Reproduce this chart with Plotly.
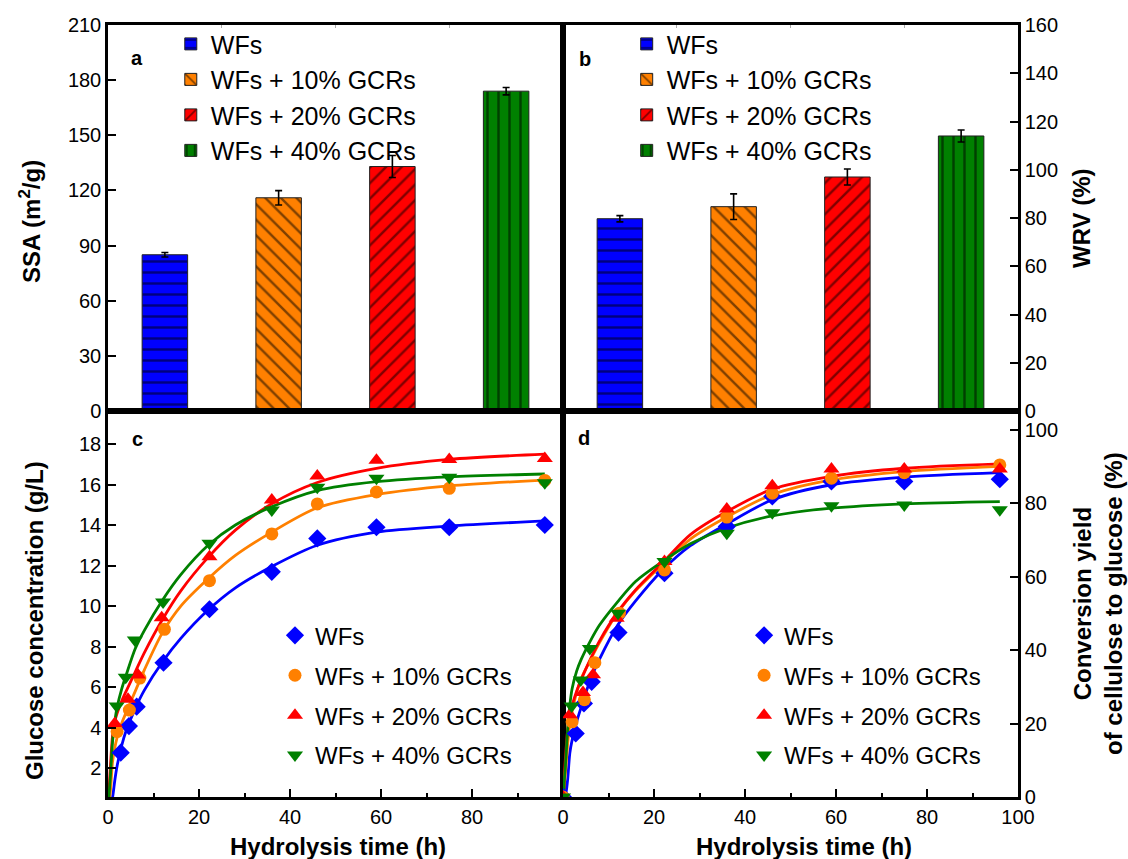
import plotly.graph_objects as go

FONT = "Arial, Liberation Sans, sans-serif"

# ---------------- data ----------------
groups = ["WFs", "WFs + 10% GCRs", "WFs + 20% GCRs", "WFs + 40% GCRs"]

ssa = [85, 116, 133, 174]          # m2/g
ssa_err = [1.2, 3.9, 6, 2]
wrv = [79.7, 84.7, 97, 114]         # %
wrv_err = [1.3, 5.3, 3.3, 2.5]

# hydrolysis sampling times (h), per series
t_wf = [0, 2.8, 4.6, 6.3, 12.2, 22.3, 36, 46, 59, 75, 96]
t_10 = [0, 2.0, 4.7, 7.0, 12.4, 22.3, 36, 46, 59, 75, 96]
t_20 = [0, 1.5, 4.4, 6.6, 11.8, 22.3, 36, 46, 59, 75, 96]
t_40 = [0, 1.9, 3.9, 5.9, 12.1, 22.3, 36, 46, 59, 75, 96]

# glucose concentration (g/L)
glc_wf = [0, 2.76, 4.07, 5.03, 7.2, 9.84, 11.69, 13.34, 13.89, 13.89, 14.0]
glc_10 = [0, 3.8, 4.86, 6.44, 8.85, 11.25, 13.56, 15.04, 15.63, 15.81, 16.2]
glc_20 = [0, 4.2, 5.4, 6.6, 9.42, 12.43, 15.23, 16.42, 17.2, 17.24, 17.29]
glc_40 = [0, 5.06, 6.48, 8.32, 10.2, 13.1, 14.74, 15.86, 16.31, 16.36, 16.09]

# conversion yield of cellulose to glucose (%)
cy_wf = [0, 17.3, 25.5, 31.4, 44.8, 61.0, 73.7, 81.9, 86.0, 86.0, 86.6]
cy_10 = [0, 20.5, 26.5, 36.6, 50.1, 61.9, 76.3, 82.8, 86.9, 88.4, 90.5]
cy_20 = [0, 22.4, 28.5, 33.3, 48.7, 64.2, 78.5, 84.8, 89.4, 89.4, 89.4]
cy_40 = [0, 24.8, 31.9, 40.5, 50.1, 64.2, 71.9, 77.5, 79.4, 79.6, 78.3]

# fitted curves
fit_t = [0, 0.5, 1, 1.5, 2, 3, 4, 6, 8, 12, 16, 22, 28, 36, 46, 59, 75, 96]
fit_glc_wf = [0, 0.1, 0.55, 1.4, 2.1, 3.1, 3.85, 4.95, 5.85, 7.25, 8.4, 9.8, 10.9, 11.95, 13.0, 13.65, 13.95, 14.2]
fit_glc_10 = [0, 0.8, 2.3, 3.0, 3.5, 4.2, 4.75, 5.8, 6.85, 8.7, 10.0, 11.35, 12.5, 13.65, 14.85, 15.5, 15.93, 16.22]
fit_glc_20 = [0, 2.0, 3.6, 4.3, 4.7, 5.3, 5.8, 6.75, 7.7, 9.35, 10.75, 12.4, 13.75, 15.05, 16.1, 16.8, 17.24, 17.5]
fit_glc_40 = [0, 1.5, 3.3, 4.3, 5.0, 5.9, 6.6, 7.9, 8.8, 10.3, 11.55, 13.0, 14.0, 14.9, 15.7, 16.14, 16.38, 16.52]

fit_cy_wf = [0, 0.5, 4.5, 12.0, 15.5, 20.5, 24.5, 31.9, 37.5, 46.8, 53.5, 62.0, 68.5, 74.4, 81.0, 85.1, 87.2, 88.4]
fit_cy_10 = [0, 6.0, 14.0, 20.0, 23.3, 28.5, 32.3, 37.3, 42.0, 50.2, 56.3, 63.5, 70.3, 76.3, 82.4, 86.4, 88.7, 90.1]
fit_cy_20 = [0, 10.0, 18.0, 22.8, 25.0, 28.8, 32.0, 37.5, 42.5, 50.4, 56.5, 64.0, 71.5, 77.8, 83.9, 87.4, 89.6, 90.8]
fit_cy_40 = [0, 8.0, 18.0, 25.0, 29.5, 34.3, 37.5, 42.5, 46.8, 53.2, 58.8, 64.3, 69.0, 73.3, 76.6, 78.7, 79.9, 80.5]

time_ticks = [0, 20, 40, 60, 80]
time_ticks_d = [0, 20, 40, 60, 80, 100]

# ---------------- styles ----------------
colors = ["#0000FF", "#FF8000", "#FF0000", "#008000"]
patterns = ["-", "\\", "/", "|"]
symbols = ["diamond", "circle", "triangle-up", "triangle-down"]
msizes = [14, 13, 14, 14]

fig = go.Figure()

# bars a and b
for panel, vals, errs, xa, ya, lg in [("a", ssa, ssa_err, "x", "y", "legend"),
                                      ("b", wrv, wrv_err, "x2", "y2", "legend2")]:
    for i, g in enumerate(groups):
        fig.add_trace(go.Bar(
            x=[g], y=[vals[i]], name=g, xaxis=xa, yaxis=ya, legend=lg,
            legendgroup=panel + str(i), width=0.4,
            marker=dict(color=colors[i], line=dict(color="#202020", width=1),
                        pattern=dict(shape=patterns[i], fgcolor="black", size=11,
                                     solidity=0.22, fillmode="overlay")),
            error_y=dict(type="data", array=[errs[i]], color="black", thickness=1.6, width=3.5),
        ))

# scatter c and d
tsets = [t_wf, t_10, t_20, t_40]
for panel, ys, fits, xa, ya, lg in [
    ("c", [glc_wf, glc_10, glc_20, glc_40], [fit_glc_wf, fit_glc_10, fit_glc_20, fit_glc_40], "x3", "y3", "legend3"),
    ("d", [cy_wf, cy_10, cy_20, cy_40], [fit_cy_wf, fit_cy_10, fit_cy_20, fit_cy_40], "x4", "y4", "legend4"),
]:
    for i, g in enumerate(groups):
        fig.add_trace(go.Scatter(
            x=fit_t, y=fits[i], mode="lines", xaxis=xa, yaxis=ya, showlegend=False,
            line=dict(color=colors[i], width=2.8, shape="spline", smoothing=0.8),
            hoverinfo="skip",
        ))
    for i, g in enumerate(groups):
        fig.add_trace(go.Scatter(
            x=tsets[i], y=ys[i], mode="markers", name=g, xaxis=xa, yaxis=ya,
            legend=lg, legendgroup=panel + str(i),
            marker=dict(symbol=symbols[i], size=msizes[i], color=colors[i], line=dict(width=0)),
        ))

axis_common = dict(showline=True, linecolor="black", linewidth=2.5, mirror=True,
                   ticks="inside", tickcolor="black", tickwidth=2, ticklen=8,
                   showgrid=False, zeroline=False,
                   tickfont=dict(family=FONT, size=20, color="black"))

cat_axis = dict(showline=True, linecolor="black", linewidth=2.5, mirror="ticks",
                ticks="inside", tickcolor="#aaaaaa", tickwidth=1, ticklen=3,
                showticklabels=False, showgrid=False, zeroline=False,
                type="category", range=[-0.5, 3.5], tickson="boundaries")

fig.update_layout(
    width=1128, height=859,
    margin=dict(l=108, r=110, t=25, b=62),
    paper_bgcolor="white", plot_bgcolor="white",
    font=dict(family=FONT, color="black"),
    barmode="overlay",
    xaxis=dict(domain=[0, 0.5], anchor="y", **cat_axis),
    xaxis2=dict(domain=[0.5, 1], anchor="y2", **cat_axis),
    yaxis=dict(domain=[0.5, 1], anchor="x", range=[0, 210], dtick=30, **axis_common),
    yaxis2=dict(domain=[0.5, 1], anchor="x2", side="right", range=[0, 160], dtick=20, **axis_common),
    xaxis3=dict(domain=[0, 0.5], anchor="y3", range=[0, 100], tickvals=time_ticks,
                minor=dict(dtick=10, ticks="inside", ticklen=4, tickwidth=1.5, tickcolor="black"),
                **axis_common),
    yaxis3=dict(domain=[0, 0.5], anchor="x3", range=[0.57, 19.63], tickvals=[2, 4, 6, 8, 10, 12, 14, 16, 18],
                **axis_common),
    xaxis4=dict(domain=[0.5, 1], anchor="y4", range=[0, 100], tickvals=time_ticks_d,
                minor=dict(dtick=10, ticks="inside", ticklen=4, tickwidth=1.5, tickcolor="black"),
                **axis_common),
    yaxis4=dict(domain=[0, 0.5], anchor="x4", side="right", range=[0, 105.2], dtick=20, **axis_common),
)

leg_bar = dict(font=dict(family=FONT, size=25, color="black"), bgcolor="rgba(0,0,0,0)",
               xanchor="left", yanchor="top", traceorder="grouped", tracegroupgap=0)
leg_pt = dict(font=dict(family=FONT, size=24, color="black"), bgcolor="rgba(0,0,0,0)",
              xanchor="left", yanchor="top", traceorder="grouped", tracegroupgap=5.7)
fig.update_layout(
    legend=dict(x=0.069, y=1.005, **leg_bar),
    legend2=dict(x=0.570, y=1.005, **leg_bar),
    legend3=dict(x=0.1835, y=0.238, **leg_pt),
    legend4=dict(x=0.699, y=0.238, **leg_pt),
)


def px(xp):
    return (xp - 108) / 910


def py(yp):
    return (797 - yp) / 772


ann = []
for lab, x, y in [("a", 129, 45), ("b", 585, 46), ("c", 130, 439), ("d", 584, 438)]:
    ann.append(dict(text="<b>%s</b>" % lab, x=px(x), y=py(y), xref="paper", yref="paper",
                    showarrow=False, font=dict(family=FONT, size=20, color="black")))

title_font = dict(family=FONT, size=24, color="black")
ann += [
    dict(text="<b>SSA (m<sup>2</sup>/g)</b>", x=px(30), y=py(222), textangle=-90),
    dict(text="<b>WRV (%)</b>", x=px(1081), y=py(218), textangle=-90),
    dict(text="<b>Glucose concentration (g/L)</b>", x=px(34), y=py(621), textangle=-90),
    dict(text="<b>Conversion yield<br>of cellulose to glucose (%)</b>", x=px(1098), y=py(604), textangle=-90),
    dict(text="<b>Hydrolysis time (h)</b>", x=px(338), y=py(846)),
    dict(text="<b>Hydrolysis time (h)</b>", x=px(804), y=py(846)),
]
for a in ann[4:]:
    a.update(xref="paper", yref="paper", showarrow=False, font=title_font,
             xanchor="center", yanchor="middle")
fig.update_layout(annotations=ann)

fig.write_html("out.html", config={"displayModeBar": False},
               post_script="document.body.style.margin='0px';")
